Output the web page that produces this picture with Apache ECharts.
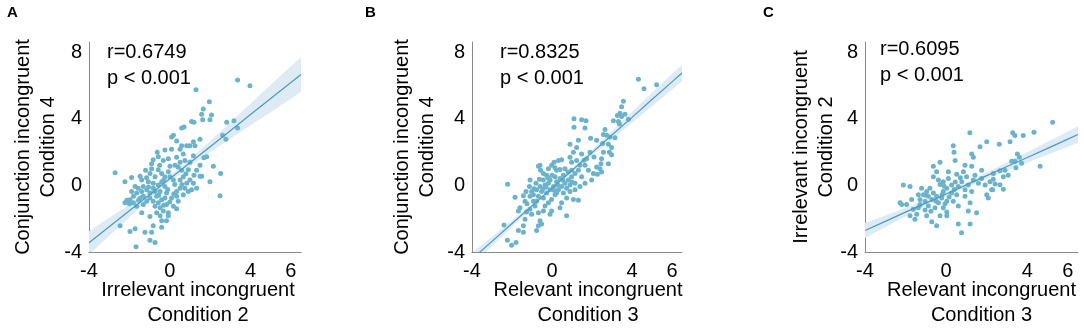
<!DOCTYPE html>
<html>
<head>
<meta charset="utf-8">
<script src="https://cdn.jsdelivr.net/npm/echarts@6.0.0/dist/echarts.min.js"></script>
<style>
html,body{margin:0;padding:0;background:#fff;}
#chart{width:1084px;height:333px;}
</style>
</head>
<body>
<div id="chart"></div>
<script>
// ---------- data ----------
const xTickLabels = [-4, 0, 4, 6];
const yTickLabels = [-4, 0, 4, 8];

const panelLetters = ['A', 'B', 'C'];
const statsR = ['r=0.6749', 'r=0.8325', 'r=0.6095'];
const statsP = ['p < 0.001', 'p < 0.001', 'p < 0.001'];
const xNames = ['Irrelevant incongruent\nCondition 2', 'Relevant incongruent\nCondition 3', 'Relevant incongruent\nCondition 3'];
const yNames = ['Conjunction incongruent\nCondition 4', 'Conjunction incongruent\nCondition 4', 'Irrelevant incongruent\nCondition 2'];

const pointsA = [
[-2.71,0.75],[-2.22,0.22],[-1.89,0.47],[-1.47,0.55],[-1.39,0.32],[-0.98,0.71],[-0.90,1.00],[-0.82,1.53],[-0.62,1.98],[-0.57,1.72],
[-0.24,2.12],[-0.32,1.49],[-0.07,1.59],[0.09,2.90],[0.18,3.01],[0.34,2.66],[0.51,2.17],[0.59,2.37],[0.84,2.37],[1.00,2.37],
[1.17,2.62],[1.25,2.37],[1.50,2.76],[1.69,1.65],[2.16,1.14],[1.99,0.22],[1.58,0.55],[1.33,-0.17],[1.00,1.39],[0.92,0.94],
[0.75,1.49],[0.51,1.39],[0.42,1.10],[0.59,0.90],[0.26,1.20],[0.01,1.14],[-0.07,0.81],[0.01,0.51],[0.18,0.32],[0.51,0.32],
[0.67,0.51],[0.84,0.12],[1.00,0.32],[1.17,0.12],[1.08,-0.27],[0.92,-0.37],[0.51,-0.17],[0.34,-0.37],[0.09,-0.76],[0.42,-0.95],
[0.18,-1.25],[0.34,-1.40],[-0.07,-1.64],[-0.07,-1.83],[-0.32,-1.54],[-0.48,-1.83],[-0.65,-1.64],[-0.73,-1.25],[-0.57,-1.05],[-0.40,-0.86],
[-0.65,-0.66],[-0.73,-0.37],[-0.98,-0.46],[-1.14,-0.27],[-1.31,-0.66],[-1.47,-0.76],[-1.64,-0.46],[-1.80,-0.66],[-1.97,-0.86],[-2.13,-0.89],
[-2.22,-1.05],[-1.80,-1.05],[-1.64,-1.25],[-1.31,-1.15],[-1.14,-0.95],[-0.98,-0.76],[-0.82,-0.95],[-1.39,-1.64],[-0.98,-1.87],[-0.82,-2.42],
[-0.40,-2.13],[-0.40,-2.52],[-0.90,-2.81],[-1.23,-2.81],[-1.72,-2.61],[-1.97,-2.77],[-2.46,-2.42],[-0.98,-3.30],[-0.73,-3.43],[-1.67,-3.69],
[-0.16,-0.46],[-0.24,-0.07],[-0.40,0.22],[-0.57,0.02],[-0.82,0.12],[-1.06,0.22],[-1.31,-0.07],[-1.56,-0.17],[-1.72,-0.07],[-1.89,-0.37],
[-1.39,-0.37],[-0.82,-0.17],[-0.48,-0.37],[-0.24,-0.76],[-0.16,-1.15],[-0.48,-1.34],[-0.16,-2.13],[0.34,-0.66],[0.67,-0.56],[0.75,-0.17],
[1.50,0.55],[1.33,0.90],[1.50,1.20],[1.83,1.72],[-0.90,1.29],[-0.57,0.94],[-0.40,0.71],[0.09,2.17],[0.34,1.68],[0.67,1.88],
[1.17,1.78],[-0.73,0.51],[-0.24,0.51],
[3.36,6.32],[3.97,5.98],[1.30,5.73],[1.96,5.01],[1.66,4.58],[1.58,4.26],[1.63,3.93],[2.07,4.22],[1.99,3.93],[1.08,3.83],
[1.20,3.78],[0.59,3.44],[0.71,3.50],[2.82,3.79],[3.18,3.87],[3.36,3.44],[2.62,3.01],[2.78,2.76],[2.52,0.71],[2.49,-0.62],
[-1.15,0.45],[-0.30,0.30],[0.25,0.05],[-0.10,-0.25],[0.60,0.05],[-1.05,-0.10],[-0.55,-0.60],[0.00,-1.00],[-0.30,-1.20],[0.20,-0.50],
[-1.20,0.90],[-0.50,1.20],[0.80,0.70],[1.20,0.60],[-2.00,-1.10],[-1.55,-0.90]
];

const pointsB = [
[-2.22,0.06],[-1.85,-0.72],[-2.40,-2.38],[-2.23,-3.30],[-2.02,-3.59],[-1.80,-3.43],[-1.68,-2.71],[-1.43,-2.81],[-1.43,-2.42],[-1.35,-0.95],
[-1.43,-0.62],[-1.30,-0.37],[-1.13,-0.07],[-1.02,-0.37],[-1.10,-0.66],[-0.93,-0.56],[-0.77,-0.27],[-0.80,0.12],[-0.63,0.36],[-0.68,1.14],
[-0.60,1.20],[-0.57,0.90],[-0.43,0.71],[-0.27,0.61],[-0.18,1.00],[-0.02,1.20],[0.10,1.39],[0.32,1.49],[0.48,1.53],[0.23,0.90],
[0.15,0.51],[-0.10,0.32],[-0.18,0.12],[-0.35,0.02],[-0.43,0.32],[-0.60,-0.07],[-0.52,-0.37],[-0.68,-0.66],[-0.93,-0.95],[-0.85,-1.24],
[-1.10,-1.44],[-1.27,-1.60],[-1.02,-1.73],[-0.68,-1.64],[-0.43,-1.54],[-0.35,-1.24],[-0.18,-1.05],[-0.02,-0.85],[0.15,-0.56],[0.32,-0.27],
[0.48,-0.07],[0.65,0.12],[0.82,0.32],[0.98,0.51],[1.15,0.71],[1.32,0.90],[1.40,1.20],[1.23,1.49],[0.98,1.39],[0.90,1.69],
[1.07,1.98],[1.23,2.27],[0.90,2.47],[1.32,2.70],[1.48,1.88],[1.73,1.59],[1.90,1.98],[1.65,1.20],[1.82,0.90],[2.07,0.71],
[2.23,1.10],[1.98,0.32],[1.65,0.12],[1.40,-0.07],[1.15,-0.27],[1.07,-0.85],[1.32,-0.89],[0.73,-0.76],[0.48,-1.05],[0.40,-1.34],
[0.73,-1.83],[-0.02,-1.54],[-0.10,-1.73],[-0.60,-2.12],[-0.68,-2.42],[-0.77,-2.71],[-0.52,-2.32],[-1.35,-2.03],[-1.60,-1.34],[-1.68,-1.54],
[0.23,0.22],[0.40,0.41],[0.57,0.61],[0.07,-0.07],[-0.10,-0.27],[-0.27,-0.46],[-0.43,-0.76],[-0.77,-0.95],[0.23,-0.46],[0.57,-0.46],
[0.90,-0.37],[0.73,-0.17],[0.90,0.02],[1.15,0.12],[1.48,0.51],[0.98,0.90],[0.65,1.00],[-1.10,0.32],
[4.32,6.37],[4.60,5.79],[5.23,6.04],[3.57,5.05],[3.48,4.71],[3.40,4.32],[3.48,4.13],[3.65,4.26],[3.27,4.19],[3.07,3.87],
[3.32,3.83],[3.82,3.97],[3.37,3.68],[1.10,3.99],[1.48,3.93],[1.70,3.87],[1.10,3.48],[1.65,3.44],[2.65,3.35],[2.57,3.05],
[2.73,3.01],[2.90,2.90],[3.15,2.86],[2.82,2.47],[2.98,2.27],[2.53,2.51],[2.87,1.98],[2.23,2.70],[1.93,2.82],[2.98,1.84],
[2.48,1.59],[2.57,1.98],[2.45,1.30],[2.82,1.30],[2.40,1.00],[2.27,0.67],[2.48,0.80],
[0.00,0.60],[0.30,0.00],[-0.30,-0.10],[0.55,0.30],[0.10,-0.30],[-0.20,0.45],[0.80,0.80],[1.00,0.20],[-0.45,-0.20],[0.40,0.95],
[1.60,1.50],[2.10,1.70],[-1.25,-1.10],[0.15,1.05],[-0.90,-0.20]
];

const pointsC = [
[0.35,2.37],[0.39,1.98],[2.00,2.62],[1.67,2.31],[0.44,1.49],[-0.30,1.39],[-0.63,1.14],[1.26,1.88],[1.34,1.69],[0.93,1.20],
[1.26,1.14],[1.75,0.90],[2.33,0.71],[0.85,0.81],[0.11,0.81],[-0.47,0.81],[-0.63,0.51],[-0.38,0.32],[-0.14,0.22],[0.52,0.67],
[1.01,0.51],[1.34,0.32],[1.59,0.12],[1.92,0.02],[2.16,0.22],[2.24,-0.27],[2.00,-0.56],[2.08,-0.76],[1.26,-0.37],[0.93,-0.27],
[0.60,-0.07],[0.27,0.02],[0.03,-0.17],[0.27,-0.46],[0.52,-0.56],[0.93,-0.66],[1.18,-1.05],[1.50,-1.64],[0.60,-1.24],[0.35,-0.95],
[0.03,-0.95],[-0.14,-1.34],[0.03,-1.60],[-0.30,-1.83],[0.03,-1.83],[-0.47,-2.42],[-0.71,-2.18],[-0.96,-1.83],[-1.04,-1.48],[-0.88,-1.24],
[-0.55,-1.34],[-0.38,-1.05],[-0.22,-0.76],[-0.47,-0.66],[-0.63,-0.46],[-0.88,-0.66],[-1.04,-0.95],[-1.29,-1.15],[-1.37,-1.34],[-1.45,-1.73],
[-1.54,-2.03],[-1.78,-1.83],[-1.29,-0.85],[-1.12,-0.56],[-0.96,-0.37],[-0.80,-0.17],[-1.21,-0.17],[-1.37,-0.56],[-1.70,-0.85],[-1.95,-1.15],
[-2.11,0.02],[-1.78,-0.07],[-2.27,-1.05],[-2.19,-1.15],[1.09,-1.54],[0.60,-2.32],[0.76,-2.85],[1.18,-2.32],[-0.14,-0.37],[0.11,0.41],
[0.77,0.22],[1.09,0.02],[1.42,0.61],[1.75,0.41],[-1.62,-1.44],
[5.25,3.78],[1.17,3.15],[3.28,3.15],[3.39,2.99],[3.80,2.99],[4.33,3.19],[2.62,2.47],[3.15,2.62],[3.51,1.88],[3.61,1.69],
[3.39,1.45],[3.23,1.45],[3.72,1.33],[4.63,1.14],[3.44,1.06],[2.90,0.90],[2.65,0.87],[2.82,0.51],[3.06,0.61],[2.32,0.36],
[2.41,0.08],[2.65,0.03],[2.29,-0.27],[2.82,-0.23],
[-0.10,-0.05],[0.40,-0.25],[-0.50,-0.95],[-0.20,-0.55],[0.15,-0.70],[-0.70,-0.85],[0.70,0.45],[-0.30,0.05],[-1.00,-0.60],[0.45,0.20],
[-0.05,-1.10],[-0.75,-1.55]
];

// regression line and its confidence band, read at these x positions
const fitX  = [-4, -3, -2, -1, 0, 1, 2, 3, 4, 5, 6, 6.5];
const fitYA = [-3.45, -2.49, -1.53, -0.56, 0.40, 1.36, 2.32, 3.28, 4.25, 5.21, 6.17, 6.65];
const fitYB = [-4.42, -3.36, -2.29, -1.23, -0.17, 0.89, 1.96, 3.02, 4.08, 5.15, 6.21, 6.74];
const fitYC = [-2.71, -2.16, -1.61, -1.07, -0.52, 0.03, 0.58, 1.13, 1.67, 2.22, 2.77, 3.05];
const bandHalfA = [0.70, 0.54, 0.38, 0.24, 0.18, 0.22, 0.34, 0.49, 0.64, 0.82, 0.97, 1.03];
const bandHalfB = [0.38, 0.28, 0.20, 0.13, 0.10, 0.12, 0.18, 0.26, 0.33, 0.41, 0.48, 0.50];
const bandHalfC = [0.45, 0.35, 0.25, 0.17, 0.12, 0.14, 0.19, 0.26, 0.32, 0.39, 0.46, 0.50];

// ---------- chart ----------
const FONT = '"Liberation Sans", Arial, sans-serif';
const DOT = '#6bb3cc';
const LINE = '#4a9bbd';
const BAND = '#deebf5';
const AXIS = '#8a8a8a';

const panels = [
  {pts: pointsA, fitY: fitYA, half: bandHalfA, grid: {left: 89, top: 42, width: 212, height: 215}, yGap: 28, xPad: 6, txt: [107, 52], letter: [7, 13]},
  {pts: pointsB, fitY: fitYB, half: bandHalfB, grid: {left: 472, top: 42, width: 210, height: 215}, yGap: 32, xPad: 22, txt: [500, 52], letter: [365, 13]},
  {pts: pointsC, fitY: fitYC, half: bandHalfC, grid: {left: 865, top: 42, width: 213, height: 215}, yGap: 26, xPad: 20, txt: [880, 49], letter: [763, 13]}
];

const grids = [], xAxes = [], yAxes = [], series = [], graphics = [];

function bandRender(params, api) {
  if (params.dataIndexInside !== 0) return null;
  const n = params.dataInsideLength;
  const upper = [], lower = [];
  for (let i = 0; i < n; i++) {
    const x = api.value(0, i), y = api.value(1, i), h = api.value(2, i);
    upper.push(api.coord([x, y + h]));
    lower.push(api.coord([x, y - h]));
  }
  const cs = params.coordSys;
  return {
    type: 'polygon',
    shape: {points: upper.concat(lower.reverse())},
    style: {fill: BAND, stroke: null},
    clipPath: {type: 'rect', shape: {x: cs.x, y: cs.y, width: cs.width, height: cs.height}},
    silent: true
  };
}

panels.forEach((p, i) => {
  grids.push(p.grid);
  xAxes.push({
    type: 'value', gridIndex: i, min: -4, max: 6.5, interval: 2,
    splitLine: {show: false}, axisTick: {show: false},
    axisLine: {onZero: false, lineStyle: {color: AXIS, width: 1}},
    axisLabel: {color: '#000', fontSize: 20, fontFamily: FONT, margin: 9,
      formatter: v => xTickLabels.includes(v) ? String(v) : ''},
    name: xNames[i], nameLocation: 'middle', nameGap: 26, nameMoveOverlap: false,
    nameTextStyle: {color: '#000', fontSize: 20, fontFamily: FONT, lineHeight: 25, padding: [0, 0, 0, p.xPad]}
  });
  yAxes.push({
    type: 'value', gridIndex: i, min: -4, max: 8.6, interval: 4,
    splitLine: {show: false}, axisTick: {show: false},
    axisLine: {onZero: false, lineStyle: {color: AXIS, width: 1}},
    axisLabel: {color: '#000', fontSize: 20, fontFamily: FONT, margin: 7,
      formatter: v => yTickLabels.includes(v) ? String(v) : ''},
    name: yNames[i], nameLocation: 'middle', nameGap: p.yGap, nameMoveOverlap: false,
    nameTextStyle: {color: '#000', fontSize: 20, fontFamily: FONT, lineHeight: 25}
  });
  series.push({
    type: 'custom', xAxisIndex: i, yAxisIndex: i, z: 1,
    renderItem: bandRender,
    data: fitX.map((x, k) => [x, p.fitY[k], p.half[k]]),
    silent: true
  });
  series.push({
    type: 'scatter', xAxisIndex: i, yAxisIndex: i, z: 2,
    symbolSize: 5, itemStyle: {color: DOT, opacity: 1},
    data: p.pts, silent: true
  });
  series.push({
    type: 'line', xAxisIndex: i, yAxisIndex: i, z: 3, clip: true,
    symbol: 'none', lineStyle: {color: LINE, width: 1.2},
    data: fitX.map((x, k) => [x, p.fitY[k]]), silent: true
  });
  graphics.push({type: 'text', x: p.letter[0], y: p.letter[1],
    style: {text: panelLetters[i], font: 'bold 15px ' + FONT, fill: '#000', verticalAlign: 'middle'}});
  graphics.push({type: 'text', x: p.txt[0], y: p.txt[1],
    style: {text: statsR[i], font: '20px ' + FONT, fill: '#000', verticalAlign: 'middle'}});
  graphics.push({type: 'text', x: p.txt[0], y: p.txt[1] + 26,
    style: {text: statsP[i], font: '20px ' + FONT, fill: '#000', verticalAlign: 'middle'}});
});

const chart = echarts.init(document.getElementById('chart'), null, {renderer: 'canvas'});
chart.setOption({
  animation: false,
  backgroundColor: '#fff',
  grid: grids, xAxis: xAxes, yAxis: yAxes, series: series, graphic: graphics
});
</script>
</body>
</html>
